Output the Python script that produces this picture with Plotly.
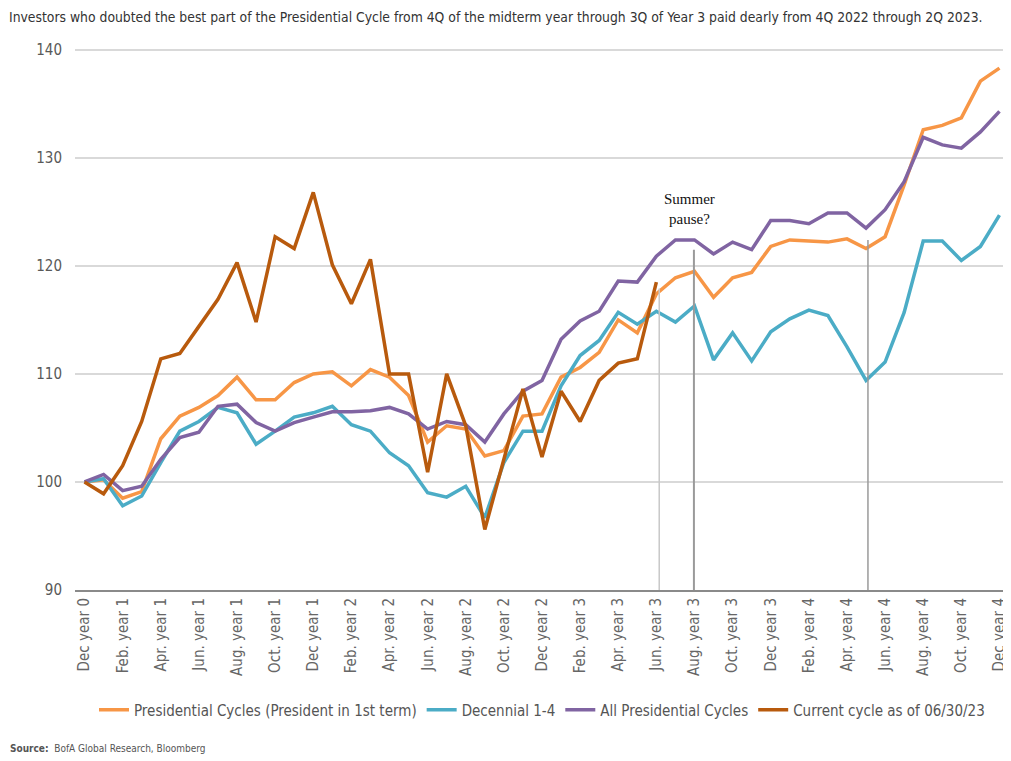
import plotly.graph_objects as go

# monthly points, Dec year 0 .. Dec year 4
months = [
    "Dec year 0",
    "Jan. year 1", "Feb. year 1", "Mar. year 1", "Apr. year 1", "May year 1", "Jun. year 1",
    "Jul. year 1", "Aug. year 1", "Sep. year 1", "Oct. year 1", "Nov. year 1", "Dec year 1",
    "Jan. year 2", "Feb. year 2", "Mar. year 2", "Apr. year 2", "May year 2", "Jun. year 2",
    "Jul. year 2", "Aug. year 2", "Sep. year 2", "Oct. year 2", "Nov. year 2", "Dec year 2",
    "Jan. year 3", "Feb. year 3", "Mar. year 3", "Apr. year 3", "May year 3", "Jun. year 3",
    "Jul. year 3", "Aug. year 3", "Sep. year 3", "Oct. year 3", "Nov. year 3", "Dec year 3",
    "Jan. year 4", "Feb. year 4", "Mar. year 4", "Apr. year 4", "May year 4", "Jun. year 4",
    "Jul. year 4", "Aug. year 4", "Sep. year 4", "Oct. year 4", "Nov. year 4", "Dec year 4",
]
tick_labels = months[::2]

pres_first_term = [
    100, 100.2, 98.5, 99.1, 104.0, 106.1, 106.9, 108.0, 109.7, 107.6, 107.6, 109.2, 110.0,
    110.2, 108.9, 110.4, 109.7, 108.0, 103.7, 105.2, 104.9, 102.4, 102.9, 106.1, 106.3,
    109.7, 110.6, 112.0, 115.0, 113.8, 117.4, 118.9, 119.5, 117.1, 118.9, 119.4, 121.8,
    122.4, 122.3, 122.2, 122.5, 121.6, 122.7, 127.5, 132.6, 133.0, 133.7, 137.1, 138.3,
]
decennial = [
    100, 100.3, 97.8, 98.7, 101.8, 104.7, 105.6, 106.9, 106.4, 103.5, 104.7, 106.0, 106.4,
    107.0, 105.3, 104.7, 102.7, 101.5, 99.0, 98.6, 99.6, 96.7, 101.8, 104.7, 104.7,
    108.9, 111.7, 113.1, 115.7, 114.6, 115.8, 114.8, 116.3, 111.3, 113.8, 111.2, 113.9,
    115.1, 115.9, 115.4, 112.5, 109.4, 111.1, 115.7, 122.3, 122.3, 120.5, 121.8, 124.7,
]
all_pres = [
    100, 100.7, 99.2, 99.6, 102.1, 104.1, 104.6, 107.0, 107.2, 105.5, 104.7, 105.5, 106.0,
    106.5, 106.5, 106.6, 106.9, 106.3, 104.9, 105.6, 105.3, 103.7, 106.3, 108.4, 109.4,
    113.2, 114.9, 115.8, 118.6, 118.5, 120.9, 122.4, 122.4, 121.1, 122.2, 121.5, 124.2,
    124.2, 123.9, 124.9, 124.9, 123.5, 125.2, 127.8, 131.9, 131.2, 130.9, 132.4, 134.3,
]
current_cycle = [
    100, 98.9, 101.5, 105.6, 111.4, 111.9, 114.4, 116.9, 120.3, 114.8, 122.7, 121.6, 126.8,
    120.1, 116.5, 120.6, 110.0, 110.0, 100.9, 110.0, 105.2, 95.6, 102.1, 108.6, 102.3,
    108.4, 105.6, 109.4, 111.0, 111.4, 118.5,
]

series = [
    ("Presidential Cycles (President in 1st term)", pres_first_term, "#F79646"),
    ("Decennial 1-4", decennial, "#4BACC6"),
    ("All Presidential Cycles", all_pres, "#8064A2"),
    ("Current cycle as of 06/30/23", current_cycle, "#B85A0D"),
]

narrow = "Liberation Sans Narrow, DejaVu Sans Condensed, Arial Narrow, sans-serif"

fig = go.Figure()
for name, vals, color in series:
    fig.add_trace(go.Scatter(
        x=months[:len(vals)], y=vals, name=name, mode="lines",
        line=dict(color=color, width=3.5),
    ))

# grey marker lines
for xpos, ytop, col, w in [(30.15, 117.9, "#C8C8C8", 1.5),
                           (31.97, 121.5, "#9A9A9A", 2),
                           (41.1, 122.4, "#9A9A9A", 1.5)]:
    fig.add_shape(type="line", xref="x", yref="y", x0=xpos, x1=xpos, y0=90, y1=ytop,
                  line=dict(color=col, width=w), layer="above")

fig.add_annotation(x=31.76, y=125.3, xref="x", yref="y", text="Summer<br>pause?",
                   showarrow=False, font=dict(family="Liberation Serif, Times New Roman, serif",
                                              size=15, color="#111111"))

fig.add_annotation(x=-0.0717, y=-0.287, xref="paper", yref="paper", xanchor="left",
                   yanchor="middle", showarrow=False,
                   text="<b>Source:</b>  BofA Global Research, Bloomberg",
                   font=dict(family=narrow, size=10, color="#555555"))

# page body adds an 8px offset, so the figure is 8px smaller and margins shifted
fig.update_layout(
    width=1003, height=753,
    margin=dict(l=67, r=2, t=31, b=171),
    paper_bgcolor="white", plot_bgcolor="white",
    title=dict(
        text="Investors who doubted the best part of the Presidential Cycle from 4Q of the midterm year "
             "through 3Q of Year 3 paid dearly from 4Q 2022 through 2Q 2023.",
        x=0.001, xref="container", xanchor="left", y=0.988, yanchor="middle",
        font=dict(family=narrow, size=13.8, color="#333333"),
    ),
    legend=dict(orientation="h", x=0.5, xanchor="center", y=-0.218, yanchor="middle",
                font=dict(family=narrow, size=15, color="#555555"), itemwidth=30,
                tracegroupgap=0),
    showlegend=True,
    xaxis=dict(
        type="category", categoryorder="array", categoryarray=months,
        range=[-0.5, 48.5], tickmode="array", tickvals=tick_labels, ticktext=tick_labels,
        tickangle=-90, showgrid=False, showline=True, linecolor="#8A8A8A", linewidth=2,
        ticks="", ticklabeloverflow="allow",
        tickfont=dict(family=narrow, size=15, color="#666666"),
    ),
    yaxis=dict(
        range=[90, 141], tickvals=[90, 100, 110, 120, 130, 140], showgrid=True,
        gridcolor="#D9D9D9", gridwidth=2, zeroline=False, ticks="",
        tickfont=dict(family=narrow, size=15, color="#595959"), ticklabelstandoff=12,
    ),
)

fig.write_html("out.html")
